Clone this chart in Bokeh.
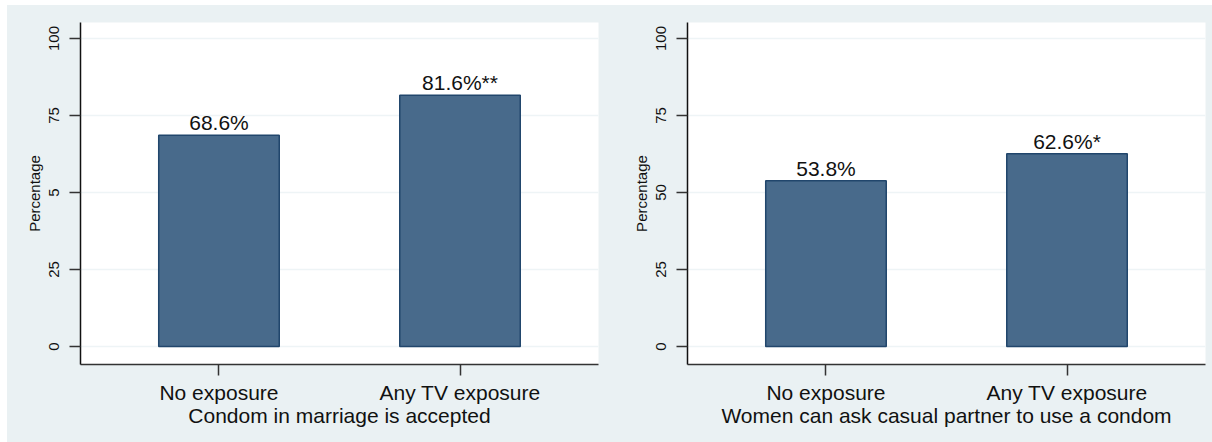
from bokeh.plotting import figure
from bokeh.layouts import row, column
from bokeh.models import (ColumnDataSource, FactorRange, Range1d, FixedTicker,
                          Spacer)
from bokeh.embed import file_html
from bokeh.resources import INLINE
from bokeh.core.properties import value

# ---- data ----
categories = ["No exposure", "Any TV exposure"]

marriage_values = [68.6, 81.6]
marriage_labels = ["68.6%", "81.6%**"]
marriage_title = "Condom in marriage is accepted"

casual_values = [53.8, 62.6]
casual_labels = ["53.8%", "62.6%*"]
casual_title = "Women can ask casual partner to use a condom"

y_ticks = [0, 25, 50, 75, 100]
left_tick_labels = ["0", "25", "5", "75", "100"]
right_tick_labels = ["0", "25", "50", "75", "100"]

# ---- style ----
FONT = "Liberation Sans"
REGION_BG = "#eaf1f3"
BAR_FILL = "#486a8b"
BAR_LINE = "#21466c"
GRID = "#eef4f6"
BIG = "21px"


def panel(values, labels, xtitle, tick_labels, width, border_left, border_right):
    src = ColumnDataSource(dict(cat=categories, val=values, lab=labels))
    p = figure(
        width=width, height=437,
        x_range=FactorRange(*categories, range_padding=0.0745,
                            range_padding_units="absolute"),
        y_range=Range1d(-5.84, 105.19),
        output_backend="svg", toolbar_location=None,
        min_border_left=border_left, min_border_right=border_right,
        min_border_top=17, min_border_bottom=78,
    )
    p.background_fill_color = "white"
    p.border_fill_color = REGION_BG
    p.outline_line_color = None

    p.vbar(x="cat", top="val", bottom=0, width=0.5, source=src,
           fill_color=BAR_FILL, line_color=BAR_LINE, line_width=1.5)
    p.text(x="cat", y="val", text="lab", source=src,
           text_align="center", text_baseline="bottom", y_offset=-1,
           text_font=value(FONT), text_font_size=BIG, text_color="#111111")

    # y axis
    p.yaxis.ticker = FixedTicker(ticks=y_ticks)
    p.yaxis.major_label_overrides = {t: s for t, s in zip(y_ticks, tick_labels)}
    p.yaxis.major_label_orientation = "vertical"
    p.yaxis.axis_label = "Percentage"
    p.yaxis.axis_label_text_font = FONT
    p.yaxis.axis_label_text_font_style = "normal"
    p.yaxis.axis_label_text_font_size = "15px"
    p.yaxis.axis_label_standoff = 4
    p.yaxis.major_label_text_font = FONT
    p.yaxis.major_label_text_font_size = "15px"
    p.yaxis.major_label_standoff = 10
    p.yaxis.major_tick_out = 11
    p.yaxis.major_tick_in = 0
    p.yaxis.minor_tick_line_color = None
    p.yaxis.axis_line_color = "#111111"
    p.yaxis.axis_line_width = 1.5
    p.yaxis.major_tick_line_color = "#333333"
    p.yaxis.major_tick_line_width = 1.5
    p.yaxis.major_label_text_color = "#111111"
    p.yaxis.axis_label_text_color = "#111111"

    # x axis
    p.xaxis.axis_label = xtitle
    p.xaxis.axis_label_text_font = FONT
    p.xaxis.axis_label_text_font_style = "normal"
    p.xaxis.axis_label_text_font_size = BIG
    p.xaxis.axis_label_standoff = -3
    p.xaxis.major_label_text_font = FONT
    p.xaxis.major_label_text_font_size = BIG
    p.xaxis.major_label_standoff = 5
    p.xaxis.major_tick_out = 11
    p.xaxis.major_tick_in = 0
    p.xaxis.axis_line_color = "#333333"
    p.xaxis.axis_line_width = 1.5
    p.xaxis.major_tick_line_color = "#333333"
    p.xaxis.major_tick_line_width = 1.5
    p.xaxis.major_label_text_color = "#111111"
    p.xaxis.axis_label_text_color = "#111111"

    p.xgrid.grid_line_color = None
    p.ygrid.ticker = FixedTicker(ticks=y_ticks)
    p.ygrid.grid_line_color = GRID
    p.ygrid.grid_line_width = 1.5
    return p


left = panel(marriage_values, marriage_labels, marriage_title,
             left_tick_labels, 599, 73, 8)
right = panel(casual_values, casual_labels, casual_title,
              right_tick_labels, 606, 81, 7)

panels = row(left, right, styles={"background-color": REGION_BG})
layout = column(Spacer(height=5), row(Spacer(width=7), panels))

open("out.html", "w").write(file_html(layout, INLINE))
